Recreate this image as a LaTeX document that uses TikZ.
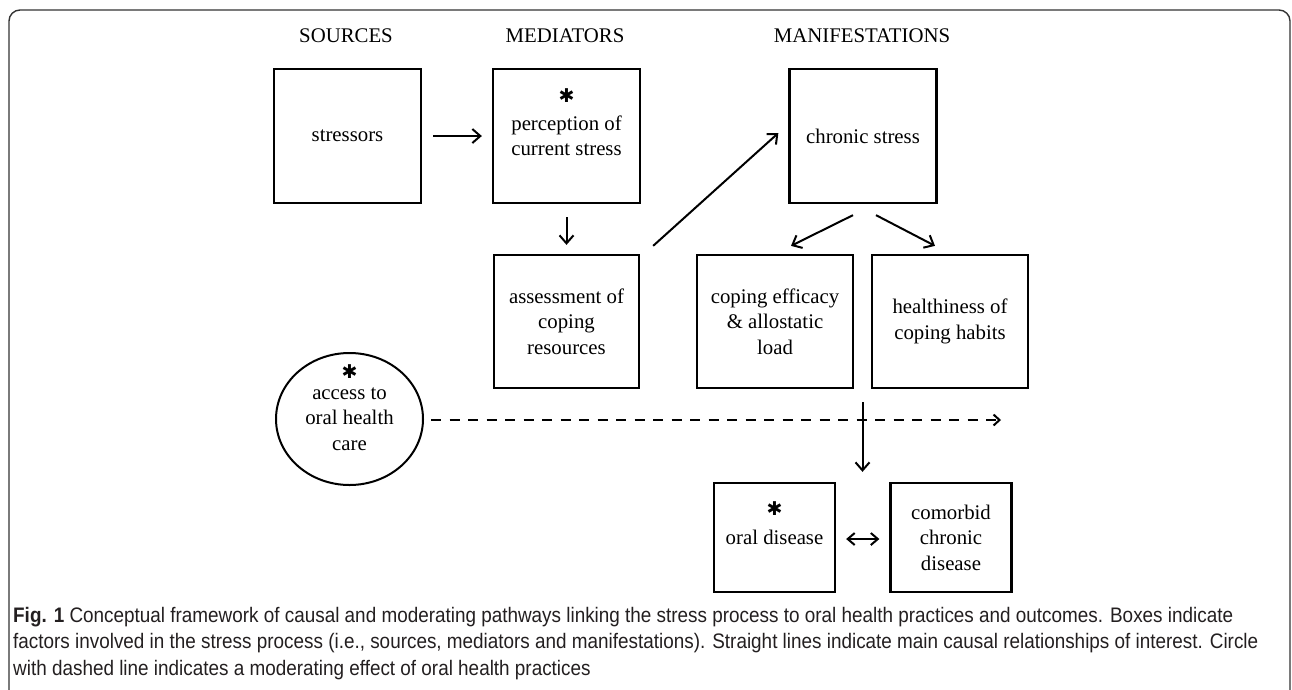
\documentclass[tikz,border=0pt]{standalone}
\usepackage{fontspec}
\setmainfont{Liberation Serif}
\newfontfamily\capfont[FakeStretch=0.9]{Liberation Sans}
\newfontfamily\astfont{DejaVu Sans}
\usetikzlibrary{arrows.meta,calc,shapes.geometric}
\definecolor{capgray}{HTML}{231F20}
\definecolor{framegray}{HTML}{333333}
% first line of a text with a large asterisk set above it
\newcommand{\withast}[2]{\sbox0{#2}\makebox[0pt][l]{\makebox[\wd0]{\raisebox{#1}[0pt][0pt]{\astfont\fontsize{19}{19}\selectfont ✱}}}\usebox0}
\begin{document}
\begin{tikzpicture}[x=1pt,y=-1pt,
  every node/.style={font=\fontsize{20.8}{25.5}\selectfont},
  box/.style={draw, line width=2.3pt, align=center, inner sep=0pt},
  bigbox/.style={box, minimum width=147pt, minimum height=134pt},
  midbox/.style={box, minimum width=156pt, minimum height=133pt},
  smallbox/.style={box, minimum width=121pt, minimum height=109pt},
  hdr/.style={inner sep=0pt},
  conn/.style={line width=2pt, -{Straight Barb[length=8pt,width=14pt]}},
  dconn/.style={line width=2pt, {Straight Barb[length=7pt,width=12pt]}-{Straight Barb[length=7pt,width=12pt]}},
  modline/.style={line width=2pt, dash pattern=on 10pt off 8.5pt, -{Straight Barb[length=6pt,width=11pt]}}]
\useasboundingbox (0,0) rectangle (1292,689);
\draw[framegray, line width=1.4pt, rounded corners=11pt] (9,10) rectangle (1290,730);

% headers
\node[hdr] (hsrc) at (346,36) {SOURCES};
\node[hdr] (hmed) at (565,36) {MEDIATORS};
\node[hdr] (hman) at (862,36) {MANIFESTATIONS};

% boxes
\node[bigbox] (stress) at (347.5,136) {stressors};
\node[bigbox] (perc) at (566.5,136) {\withast{28pt}{perception of}\\current stress};
\node[bigbox] (chron) at (863,136) {chronic stress};
\node[box, minimum width=145pt, minimum height=133pt] (assess) at (566.5,321.5) {assessment of\\coping\\resources};
\node[midbox] (coping) at (775,321.5) {coping efficacy\\\& allostatic\\load};
\node[midbox] (health) at (950,321.5) {healthiness of\\coping habits};
\node[smallbox] (oral) at (774.5,537.5) {\withast{29pt}{oral disease}};
\node[smallbox] (comor) at (951,537.5) {comorbid\\chronic\\disease};

% moderator
\node[draw, ellipse, line width=2pt, minimum width=147pt, minimum height=132pt, align=center, inner sep=0pt] (access) at (349.5,419) {\withast{21pt}{access to}\\oral health\\care};

% connectors
\draw[conn] ($(stress.east)+(11,0)$) -- ($(perc.west)+(-10,0)$);
\draw[conn] ($(perc.south)+(0,13)$) -- ($(assess.north)+(0,-9)$);
\draw[conn] ($(assess.north east)+(13,-8)$) -- ($(chron.west)+(-10,-3)$);
\draw[conn] ($(chron.south)+(-10,11)$) -- ($(coping.north)+(16,-8)$);
\draw[conn] ($(chron.south)+(13,11)$) -- ($(health.north)+(-15,-8)$);
\coordinate (vtop) at ($(coping.south east)!0.5!(health.south west)+(0,13)$);
\coordinate (vbot) at (vtop |- {$(oral.north)+(0,-10)$});
\draw[conn] (vtop) -- (vbot);
\draw[dconn] ($(oral.east)+(10,1.5)$) -- ($(comor.west)+(-10,1.5)$);
\coordinate (modend) at (1001,420);
\draw[modline] ($(access.east)+(7,1)$) -- (modend);

% caption
\node[anchor=north west, align=left, inner sep=0pt, text=capgray,
  font=\capfont\fontsize{21}{26.5}\selectfont] (cap) at (13,607)
  {\textbf{Fig. 1} Conceptual framework of causal and moderating pathways linking the stress process to oral health practices and outcomes. Boxes indicate\\
  factors involved in the stress process (i.e., sources, mediators and manifestations). Straight lines indicate main causal relationships of interest. Circle\\
  with dashed line indicates a moderating effect of oral health practices};
\end{tikzpicture}
\end{document}
